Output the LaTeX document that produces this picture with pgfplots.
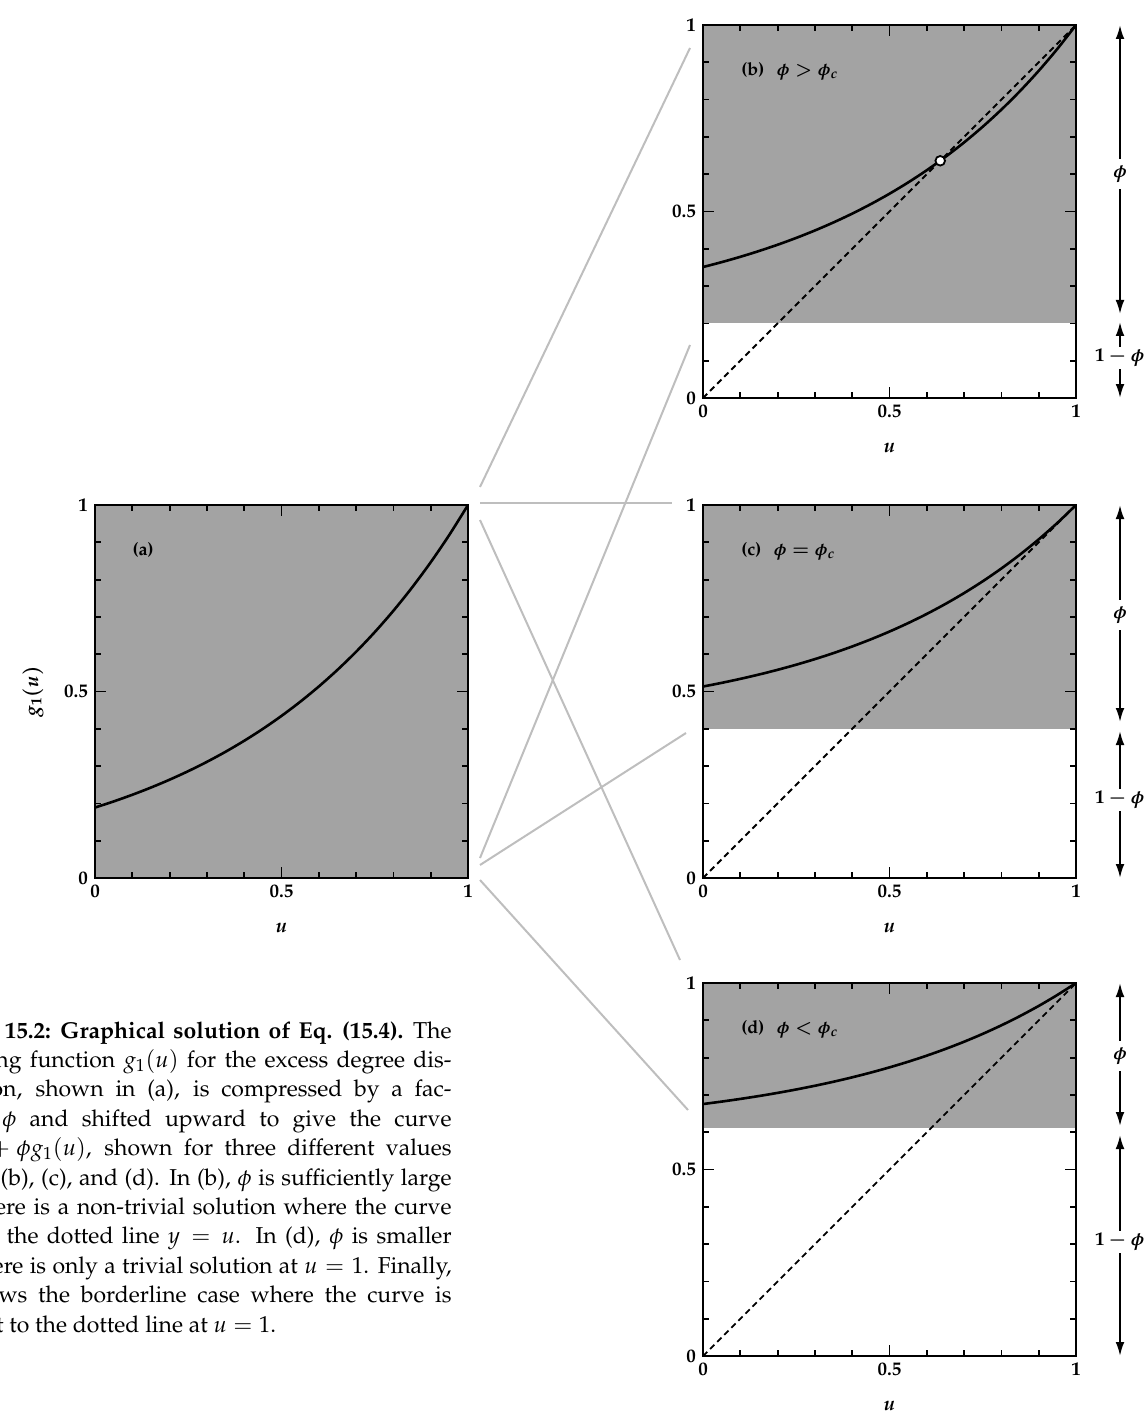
\documentclass[border=0pt]{standalone}
\usepackage[T1]{fontenc}
\usepackage{mathpazo}
\usepackage{pgfplots}
\pgfplotsset{compat=1.18}
\usetikzlibrary{arrows.meta}
\definecolor{shade}{HTML}{A3A3A3}
\definecolor{linkc}{HTML}{BEBEBE}
\tikzset{plab/.style={anchor=west, inner sep=0pt, font=\fontsize{9}{10}\selectfont\bfseries}}
\pgfplotsset{
  panel/.style={
    width=186.5pt, height=186.5pt, scale only axis,
    xmin=0, xmax=1, ymin=0, ymax=1,
    xtick={0,0.5,1}, ytick={0,0.5,1},
    minor xtick={0.1,0.2,0.3,0.4,0.6,0.7,0.8,0.9},
    minor ytick={0.1,0.2,0.3,0.4,0.6,0.7,0.8,0.9},
    tick align=inside, major tick length=5.5pt, minor tick length=3pt,
    every tick/.append style={line width=0.9pt, black},
    axis line style={line width=1.4pt},
    axis on top,
    ticklabel style={font=\fontsize{9.5}{10}\selectfont\boldmath},
    xlabel={$u$},
    xlabel style={at={(axis description cs:0.5,-0.134)}, anchor=center, font=\fontsize{10}{12}\selectfont\boldmath},
  },
  curve/.style={black, line width=1.3pt, smooth},
  diag/.style={black, line width=0.9pt, dash pattern=on 3pt off 2pt},
}
\newcommand{\capS}[1]{\makebox[262.5pt][s]{#1}}
\newcommand{\capR}[1]{\makebox[262.5pt][r]{\spaceskip=0.36em\relax #1}}
\begin{document}
\begin{tikzpicture}
\path[use as bounding box] (0pt,0pt) rectangle (573pt,-708.5pt);

\begin{scope}[x=0.5pt,y=0.5pt]
% connecting lines
\begin{scope}[linkc, line width=1pt]
\draw (480,-487) -- (690,-48);
\draw (480,-503) -- (672,-503);
\draw (480,-520) -- (680,-960);
\draw (480,-858) -- (690,-345);
\draw (480,-865) -- (686,-733);
\draw (480,-880) -- (688,-1110);
\end{scope}
\end{scope}

% (a)
\begin{axis}[panel, at={(47.5pt,-439pt)}, anchor=south west,
  ylabel={$g_1(u)$},
  ylabel style={at={(axis description cs:-0.166,0.5)}, anchor=center, font=\fontsize{10}{12}\selectfont\boldmath}]
\addplot[fill=shade, draw=none] coordinates {(0,0) (1,0) (1,1) (0,1)} -- cycle;
\addplot[curve] coordinates {
(0,0.18888) (0.05,0.20528) (0.1,0.22313) (0.15,0.24252) (0.2,0.26360)
(0.25,0.28650) (0.3,0.31140) (0.35,0.33846) (0.4,0.36788) (0.45,0.39985)
(0.5,0.43460) (0.55,0.47237) (0.6,0.51342) (0.65,0.55804) (0.7,0.60653)
(0.75,0.65924) (0.8,0.71653) (0.85,0.77880) (0.9,0.84648) (0.95,0.92004) (1,1)};
\node[plab] at (rel axis cs:0.1,0.88) {(a)};
\end{axis}

% (b)
\begin{axis}[panel, at={(351.5pt,-199pt)}, anchor=south west]
\addplot[fill=shade, draw=none] coordinates {(0,0.2) (1,0.2) (1,1) (0,1)} -- cycle;
\addplot[diag] coordinates {(0,0) (1,1)};
\addplot[curve] coordinates {
(0,0.35110) (0.05,0.36422) (0.1,0.37850) (0.15,0.39402) (0.2,0.41088)
(0.25,0.42920) (0.3,0.44912) (0.35,0.47077) (0.4,0.49430) (0.45,0.51988)
(0.5,0.54768) (0.55,0.57790) (0.6,0.61074) (0.65,0.64643) (0.7,0.68522)
(0.75,0.72739) (0.8,0.77322) (0.85,0.82304) (0.9,0.87718) (0.95,0.93603) (1,1)};
\addplot[only marks, mark=*, mark size=2.4pt, mark options={fill=white, draw=black, line width=0.9pt}] coordinates {(0.636,0.636)};
\node[plab] at (rel axis cs:0.102,0.875) {(b)\hspace{6pt}{\boldmath$\phi > \phi_c$}};
\end{axis}

% (c)
\begin{axis}[panel, at={(351.5pt,-439pt)}, anchor=south west]
\addplot[fill=shade, draw=none] coordinates {(0,0.4) (1,0.4) (1,1) (0,1)} -- cycle;
\addplot[diag] coordinates {(0,0) (1,1)};
\addplot[curve] coordinates {
(0,0.51333) (0.05,0.52317) (0.1,0.53388) (0.15,0.54551) (0.2,0.55816)
(0.25,0.57190) (0.3,0.58684) (0.35,0.60308) (0.4,0.62073) (0.45,0.63991)
(0.5,0.66076) (0.55,0.68342) (0.6,0.70805) (0.65,0.73482) (0.7,0.76392)
(0.75,0.79554) (0.8,0.82992) (0.85,0.86728) (0.9,0.90789) (0.95,0.95202) (1,1)};
\node[plab] at (rel axis cs:0.102,0.875) {(c)\hspace{6pt}{\boldmath$\phi = \phi_c$}};
\end{axis}

% (d)
\begin{axis}[panel, at={(351.5pt,-678pt)}, anchor=south west]
\addplot[fill=shade, draw=none] coordinates {(0,0.61) (1,0.61) (1,1) (0,1)} -- cycle;
\addplot[diag] coordinates {(0,0) (1,1)};
\addplot[curve] coordinates {
(0,0.67555) (0.05,0.68211) (0.1,0.68925) (0.15,0.69701) (0.2,0.70544)
(0.25,0.71460) (0.3,0.72456) (0.35,0.73538) (0.4,0.74715) (0.45,0.75994)
(0.5,0.77384) (0.55,0.78895) (0.6,0.80537) (0.65,0.82322) (0.7,0.84261)
(0.75,0.86370) (0.8,0.88661) (0.85,0.91152) (0.9,0.93859) (0.95,0.96802) (1,1)};
\node[plab] at (rel axis cs:0.102,0.875) {(d)\hspace{6pt}{\boldmath$\phi < \phi_c$}};
\end{axis}

\begin{scope}[x=0.5pt,y=0.5pt]
% arrows on the right
\begin{scope}[line width=1pt, arr/.style={{Latex[length=7pt,width=4.4pt]}-{Latex[length=7pt,width=4.4pt]}},
  lab/.style={fill=white, inner sep=3pt, font=\fontsize{9.5}{10}\selectfont\boldmath}]
\draw[arr] (1120,-25) -- (1120,-314);
\node[lab] at (1120,-174) {$\phi$};
\draw[arr] (1120,-322) -- (1120,-398);
\node[lab, inner sep=1pt] at (1120,-358) {$1-\phi$};
\draw[arr] (1120,-505) -- (1120,-722);
\node[lab] at (1120,-615) {$\phi$};
\draw[arr] (1120,-731) -- (1120,-878);
\node[lab, inner sep=1pt] at (1120,-800) {$1-\phi$};
\draw[arr] (1120,-983) -- (1120,-1126);
\node[lab] at (1120,-1056) {$\phi$};
\draw[arr] (1120,-1135) -- (1120,-1356);
\node[lab, inner sep=1pt] at (1120,-1242) {$1-\phi$};
\end{scope}

% caption (cut at the left edge)
\begin{scope}
\clip (0,0) rectangle (1146,-1417);
\node[anchor=north east, inner sep=0pt, align=right,
  font=\fontsize{11.5}{14.7}\selectfont] at (452,-1021) {%
\capR{\textbf{Figure 15.2: Graphical solution of Eq. (15.4).} The}\\
\capR{generating function $g_1(u)$ for the excess degree dis-}\\
\capS{tribution, shown in (a), is compressed by a fac-}\\
\capS{tor of $\phi$ and shifted upward to give the curve}\\
\capS{$1-\phi+\phi g_1(u)$, shown for three different values}\\
\capS{of $\phi$ in (b), (c), and (d). In (b), $\phi$ is sufficiently large}\\
\capS{that there is a non-trivial solution where the curve}\\
\capS{crosses the dotted line $y=u$. In (d), $\phi$ is smaller}\\
\capS{and there is only a trivial solution at $u=1$. Finally,}\\
\capS{(c) shows the borderline case where the curve is}\\
\makebox[262.5pt][l]{tangent to the dotted line at $u=1$.}};
\end{scope}
\end{scope}
\end{tikzpicture}
\end{document}
